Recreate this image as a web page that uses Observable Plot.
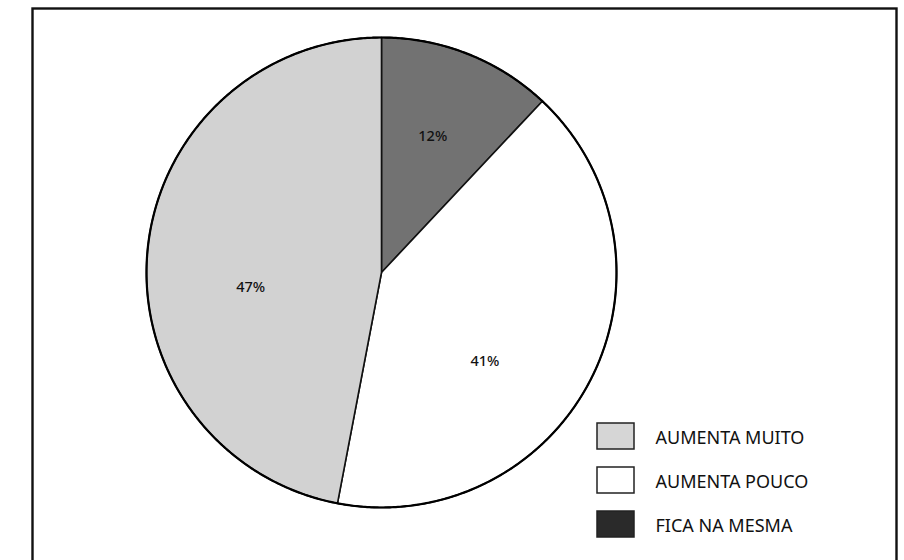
<!DOCTYPE html>
<html>
<head>
<meta charset="utf-8">
<script src="https://cdn.jsdelivr.net/npm/d3@7"></script>
<script src="https://cdn.jsdelivr.net/npm/@observablehq/plot@0.6"></script>
<style>
  html, body { margin: 0; padding: 0; background: #fff; overflow: hidden; }
  #chart { width: 904px; height: 560px; }
</style>
</head>
<body>
<div id="chart"></div>
<script>
// ---- data ----
const categories = ["FICA NA MESMA", "AUMENTA POUCO", "AUMENTA MUITO"];
const values = [12, 41, 47];
const valueLabels = ["12%", "41%", "47%"];
const legendOrder = ["AUMENTA MUITO", "AUMENTA POUCO", "FICA NA MESMA"];

// ---- layout / style ----
const W = 904, H = 560;
const cx = 381, cy = 272, R = 235;             // pie centre and radius (px)
const sliceFill = {"FICA NA MESMA": "#727272", "AUMENTA POUCO": "#ffffff", "AUMENTA MUITO": "#d2d2d2"};
const legendFill = {"FICA NA MESMA": "#2a2a2a", "AUMENTA POUCO": "#ffffff", "AUMENTA MUITO": "#d6d6d6"};
// label placement: angle (deg, clockwise from 12 o'clock) and fraction of radius
const labelPlace = {"FICA NA MESMA": [20.6, 0.62], "AUMENTA POUCO": [130.6, 0.58], "AUMENTA MUITO": [263.5, 0.56]};
const ux = px => (px - cx) / R;
const uy = py => (cy - py) / R;

const table = categories.map((c, i) => ({category: c, value: values[i], label: valueLabels[i]}));
const arcs = d3.pie().sort(null).value(d => d.value)(table);

function arcPoints(a0, a1, withCentre) {
  const pts = [];
  if (withCentre) pts.push({x: 0, y: 0});
  const n = Math.max(2, Math.ceil((a1 - a0) / (Math.PI / 360)));
  for (let k = 0; k <= n; k++) {
    const a = a0 + (a1 - a0) * k / n;
    pts.push({x: Math.sin(a), y: Math.cos(a)});
  }
  return pts;
}

const sliceMarks = arcs.map(a =>
  Plot.line(arcPoints(a.startAngle, a.endAngle, true), {
    x: "x", y: "y", curve: "linear-closed",
    fill: sliceFill[a.data.category], stroke: "#111", strokeWidth: 1.6
  })
);
const outline = Plot.line(arcPoints(0, 2 * Math.PI, false), {
  x: "x", y: "y", curve: "linear-closed", fill: "none", stroke: "#000", strokeWidth: 2.2
});

const labelData = table.map(d => {
  const [deg, f] = labelPlace[d.category];
  const a = deg * Math.PI / 180;
  return {x: f * Math.sin(a), y: f * Math.cos(a), label: d.label};
});

const legendData = legendOrder.map((c, i) => ({category: c, row: i}));
const rowY = i => 436 + i * 44;

const chart = Plot.plot({
  width: W, height: H,
  margin: 0,
  x: {domain: [ux(0), ux(W)], range: [0, W], axis: null},
  y: {domain: [uy(H), uy(0)], range: [H, 0], axis: null},
  style: {background: "#fff", fontFamily: "'Noto Sans', 'DejaVu Sans', sans-serif"},
  marks: [
    Plot.frame({stroke: "#111", strokeWidth: 2.4, insetLeft: 32, insetTop: 8, insetRight: 8, insetBottom: -20}),
    ...sliceMarks,
    outline,
    Plot.text(labelData, {x: "x", y: "y", text: "label", fontSize: 14.5, fill: "#111", fontWeight: 500}),
    Plot.rect(legendData, {
      x1: () => ux(597), x2: () => ux(634),
      y1: d => uy(rowY(d.row) - 13), y2: d => uy(rowY(d.row) + 13),
      fill: d => legendFill[d.category], stroke: "#222", strokeWidth: 1.5
    }),
    Plot.text(legendData, {
      x: () => ux(655), y: d => uy(rowY(d.row) + 2), text: "category",
      textAnchor: "start", fontSize: 18, fill: "#111"
    })
  ]
});
document.getElementById("chart").appendChild(chart);
</script>
</body>
</html>
